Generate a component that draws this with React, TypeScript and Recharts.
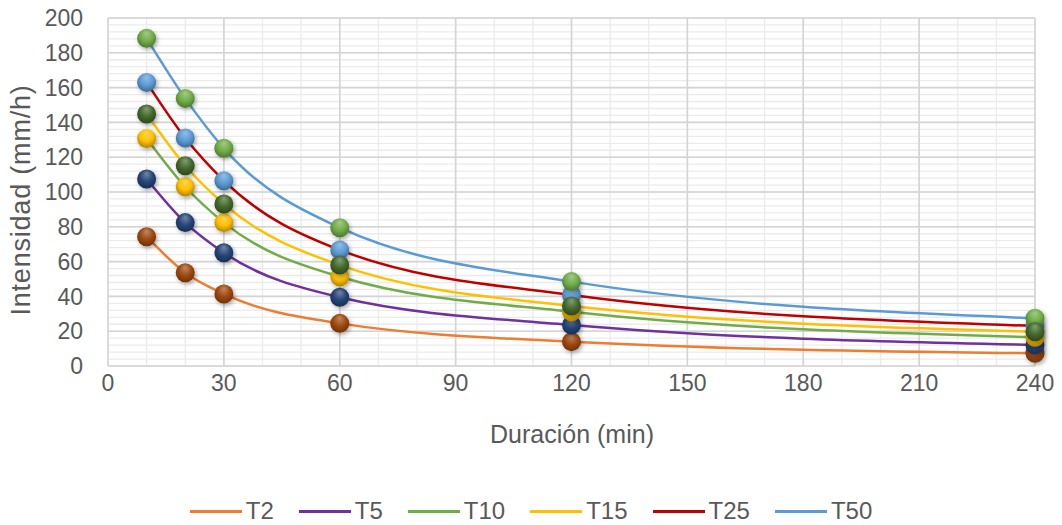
import React from 'react';
import { ComposedChart, Line, XAxis, YAxis, CartesianGrid, Legend } from 'recharts';

// Duración de la lluvia (min)
const durations = [10, 20, 30, 60, 120, 240];

// Intensidad (mm/h) por periodo de retorno
const t2 = [74.3, 53.6, 41.4, 24.5, 14.0, 7.3];
const t5 = [107.5, 82.4, 65.1, 39.5, 23.6, 12.1];
const t10 = [130.8, 103.0, 82.4, 51.3, 31.2, 16.5];
const t15 = [144.8, 115.1, 93.1, 58.0, 34.5, 19.7];
const t25 = [163.0, 131.0, 106.5, 66.7, 40.8, 23.0];
const t50 = [188.3, 153.8, 125.1, 79.5, 48.5, 27.4];

const seriesNames = ['T2', 'T5', 'T10', 'T15', 'T25', 'T50'];
const seriesValues = [t2, t5, t10, t15, t25, t50];
const lineColors = ['#ED7D31', '#7030A0', '#70AD47', '#FFC000', '#C00000', '#5B9BD5'];
const markerColors = ['#9E480E', '#264478', '#FFC000', '#43682B', '#5B9BD5', '#70AD47'];
// draw order of the marker layers (last one ends up on top)
const markerOrder = [0, 1, 2, 4, 5, 3];

const X_MAX = 240;
const Y_MAX = 200;
const xTicks = [0, 30, 60, 90, 120, 150, 180, 210, 240];
const yTicks = [0, 20, 40, 60, 80, 100, 120, 140, 160, 180, 200];
const xMinor = Array.from({ length: 25 }, (_, i) => i * 10);
const yMinor = Array.from({ length: 51 }, (_, i) => i * 4);

const data = durations.map((d, i) => {
  const row: Record<string, number> = { duration: d };
  seriesNames.forEach((name, s) => {
    row[name] = seriesValues[s][i];
  });
  return row;
});

const FONT = "'Liberation Sans', Arial, sans-serif";
const TEXT = '#595959';

const shade = (hex: string, f: number) => {
  const n = parseInt(hex.slice(1), 16);
  const ch = [(n >> 16) & 255, (n >> 8) & 255, n & 255].map((c) =>
    Math.round(f >= 0 ? c + (255 - c) * f : c * (1 + f))
  );
  return `rgb(${ch.join(',')})`;
};

const MarkerDefs = () => (
  <svg width={0} height={0} style={{ position: 'absolute' }}>
    <defs>
      {markerColors.map((c, i) => (
        <radialGradient key={i} id={`mk-${i}`} cx="50%" cy="42%" r="62%" fx="50%" fy="22%">
          <stop offset="0%" stopColor={shade(c, 0.35)} />
          <stop offset="55%" stopColor={c} />
          <stop offset="100%" stopColor={shade(c, -0.35)} />
        </radialGradient>
      ))}
      <filter id="mk-shadow" x="-50%" y="-50%" width="200%" height="200%">
        <feDropShadow dx="1.5" dy="2" stdDeviation="2" floodColor="#000" floodOpacity="0.35" />
      </filter>
    </defs>
  </svg>
);

const makeDot = (s: number) => (props: any) => {
  const { cx, cy, index } = props;
  if (cx == null || cy == null) return <g key={`mk-${s}-${index}`} />;
  return (
    <circle
      key={`mk-${s}-${index}`}
      cx={cx}
      cy={cy}
      r={9.5}
      fill={`url(#mk-${s})`}
      filter="url(#mk-shadow)"
    />
  );
};

const YTitle = () => (
  <text
    transform="translate(30,200) rotate(-90)"
    textAnchor="middle"
    fill={TEXT}
    fontSize={27}
    fontFamily={FONT}
    letterSpacing={0.8}
  >
    Intensidad (mm/h)
  </text>
);

const XTitle = () => (
  <text x={572} y={443} textAnchor="middle" fill={TEXT} fontSize={25} fontFamily={FONT}>
    Duración (min)
  </text>
);

const renderLegend = () => (
  <div
    style={{
      display: 'flex',
      justifyContent: 'center',
      alignItems: 'center',
      height: 28,
      fontFamily: FONT,
      fontSize: 24,
      color: TEXT,
    }}
  >
    {seriesNames.map((name, i) => (
      <div
        key={name}
        style={{ display: 'flex', alignItems: 'center', marginRight: i < seriesNames.length - 1 ? 25 : 0 }}
      >
        <span style={{ display: 'inline-block', width: 52, height: 3, background: lineColors[i], marginRight: 4 }} />
        <span>{name}</span>
      </div>
    ))}
  </div>
);

// grid line positions inside the plot area (both axes are linear from 0)
const gridRows = (values: number[]) => (p: any) => {
  const o = p.offset || { top: 18, height: 348 };
  return values.map((v) => o.top + o.height * (1 - v / Y_MAX));
};
const gridCols = (values: number[]) => (p: any) => {
  const o = p.offset || { left: 108, width: 927 };
  return values.map((v) => o.left + (o.width * v) / X_MAX);
};

export default function App() {
  return (
    <div style={{ position: 'absolute', left: 0, top: 0, width: 1062, height: 525, background: '#fff' }}>
      <MarkerDefs />
      <ComposedChart width={1062} height={525} data={data} margin={{ top: 18, right: 27, left: 8, bottom: 0 }}>
        {/* minor grid: every 10 min and every 4 mm/h */}
        <CartesianGrid
          horizontalCoordinatesGenerator={gridRows(yMinor)}
          verticalCoordinatesGenerator={gridCols(xMinor)}
          stroke="#EBEBEB"
          strokeWidth={1.3}
          fill="none"
        />
        <CartesianGrid
          horizontalCoordinatesGenerator={gridRows(yTicks)}
          verticalCoordinatesGenerator={gridCols(xTicks)}
          stroke="#D4D4D4"
          strokeWidth={1.6}
          fill="none"
        />
        <XAxis
          dataKey="duration"
          type="number"
          domain={[0, X_MAX]}
          ticks={xTicks}
          axisLine={false}
          tickLine={false}
          tickMargin={3}
          height={131}
          tick={{ fill: TEXT, fontSize: 23, fontFamily: FONT }}
          label={<XTitle />}
        />
        <YAxis
          type="number"
          domain={[0, Y_MAX]}
          ticks={yTicks}
          axisLine={false}
          tickLine={false}
          tickMargin={19}
          width={100}
          tick={{ fill: TEXT, fontSize: 23, fontFamily: FONT }}
          label={<YTitle />}
        />
        <Legend
          verticalAlign="bottom"
          content={renderLegend}
          wrapperStyle={{ left: 0, width: 1062, bottom: 0 }}
        />
        {seriesNames.map((name, i) => (
          <Line
            key={`trend-${name}`}
            type="monotone"
            dataKey={name}
            name={name}
            stroke={lineColors[i]}
            strokeWidth={2.5}
            dot={false}
            activeDot={false}
            isAnimationActive={false}
          />
        ))}
        {markerOrder.map((s) => (
          <Line
            key={`marker-${seriesNames[s]}`}
            dataKey={seriesNames[s]}
            stroke="none"
            legendType="none"
            dot={makeDot(s)}
            activeDot={false}
            isAnimationActive={false}
          />
        ))}
      </ComposedChart>
    </div>
  );
}
